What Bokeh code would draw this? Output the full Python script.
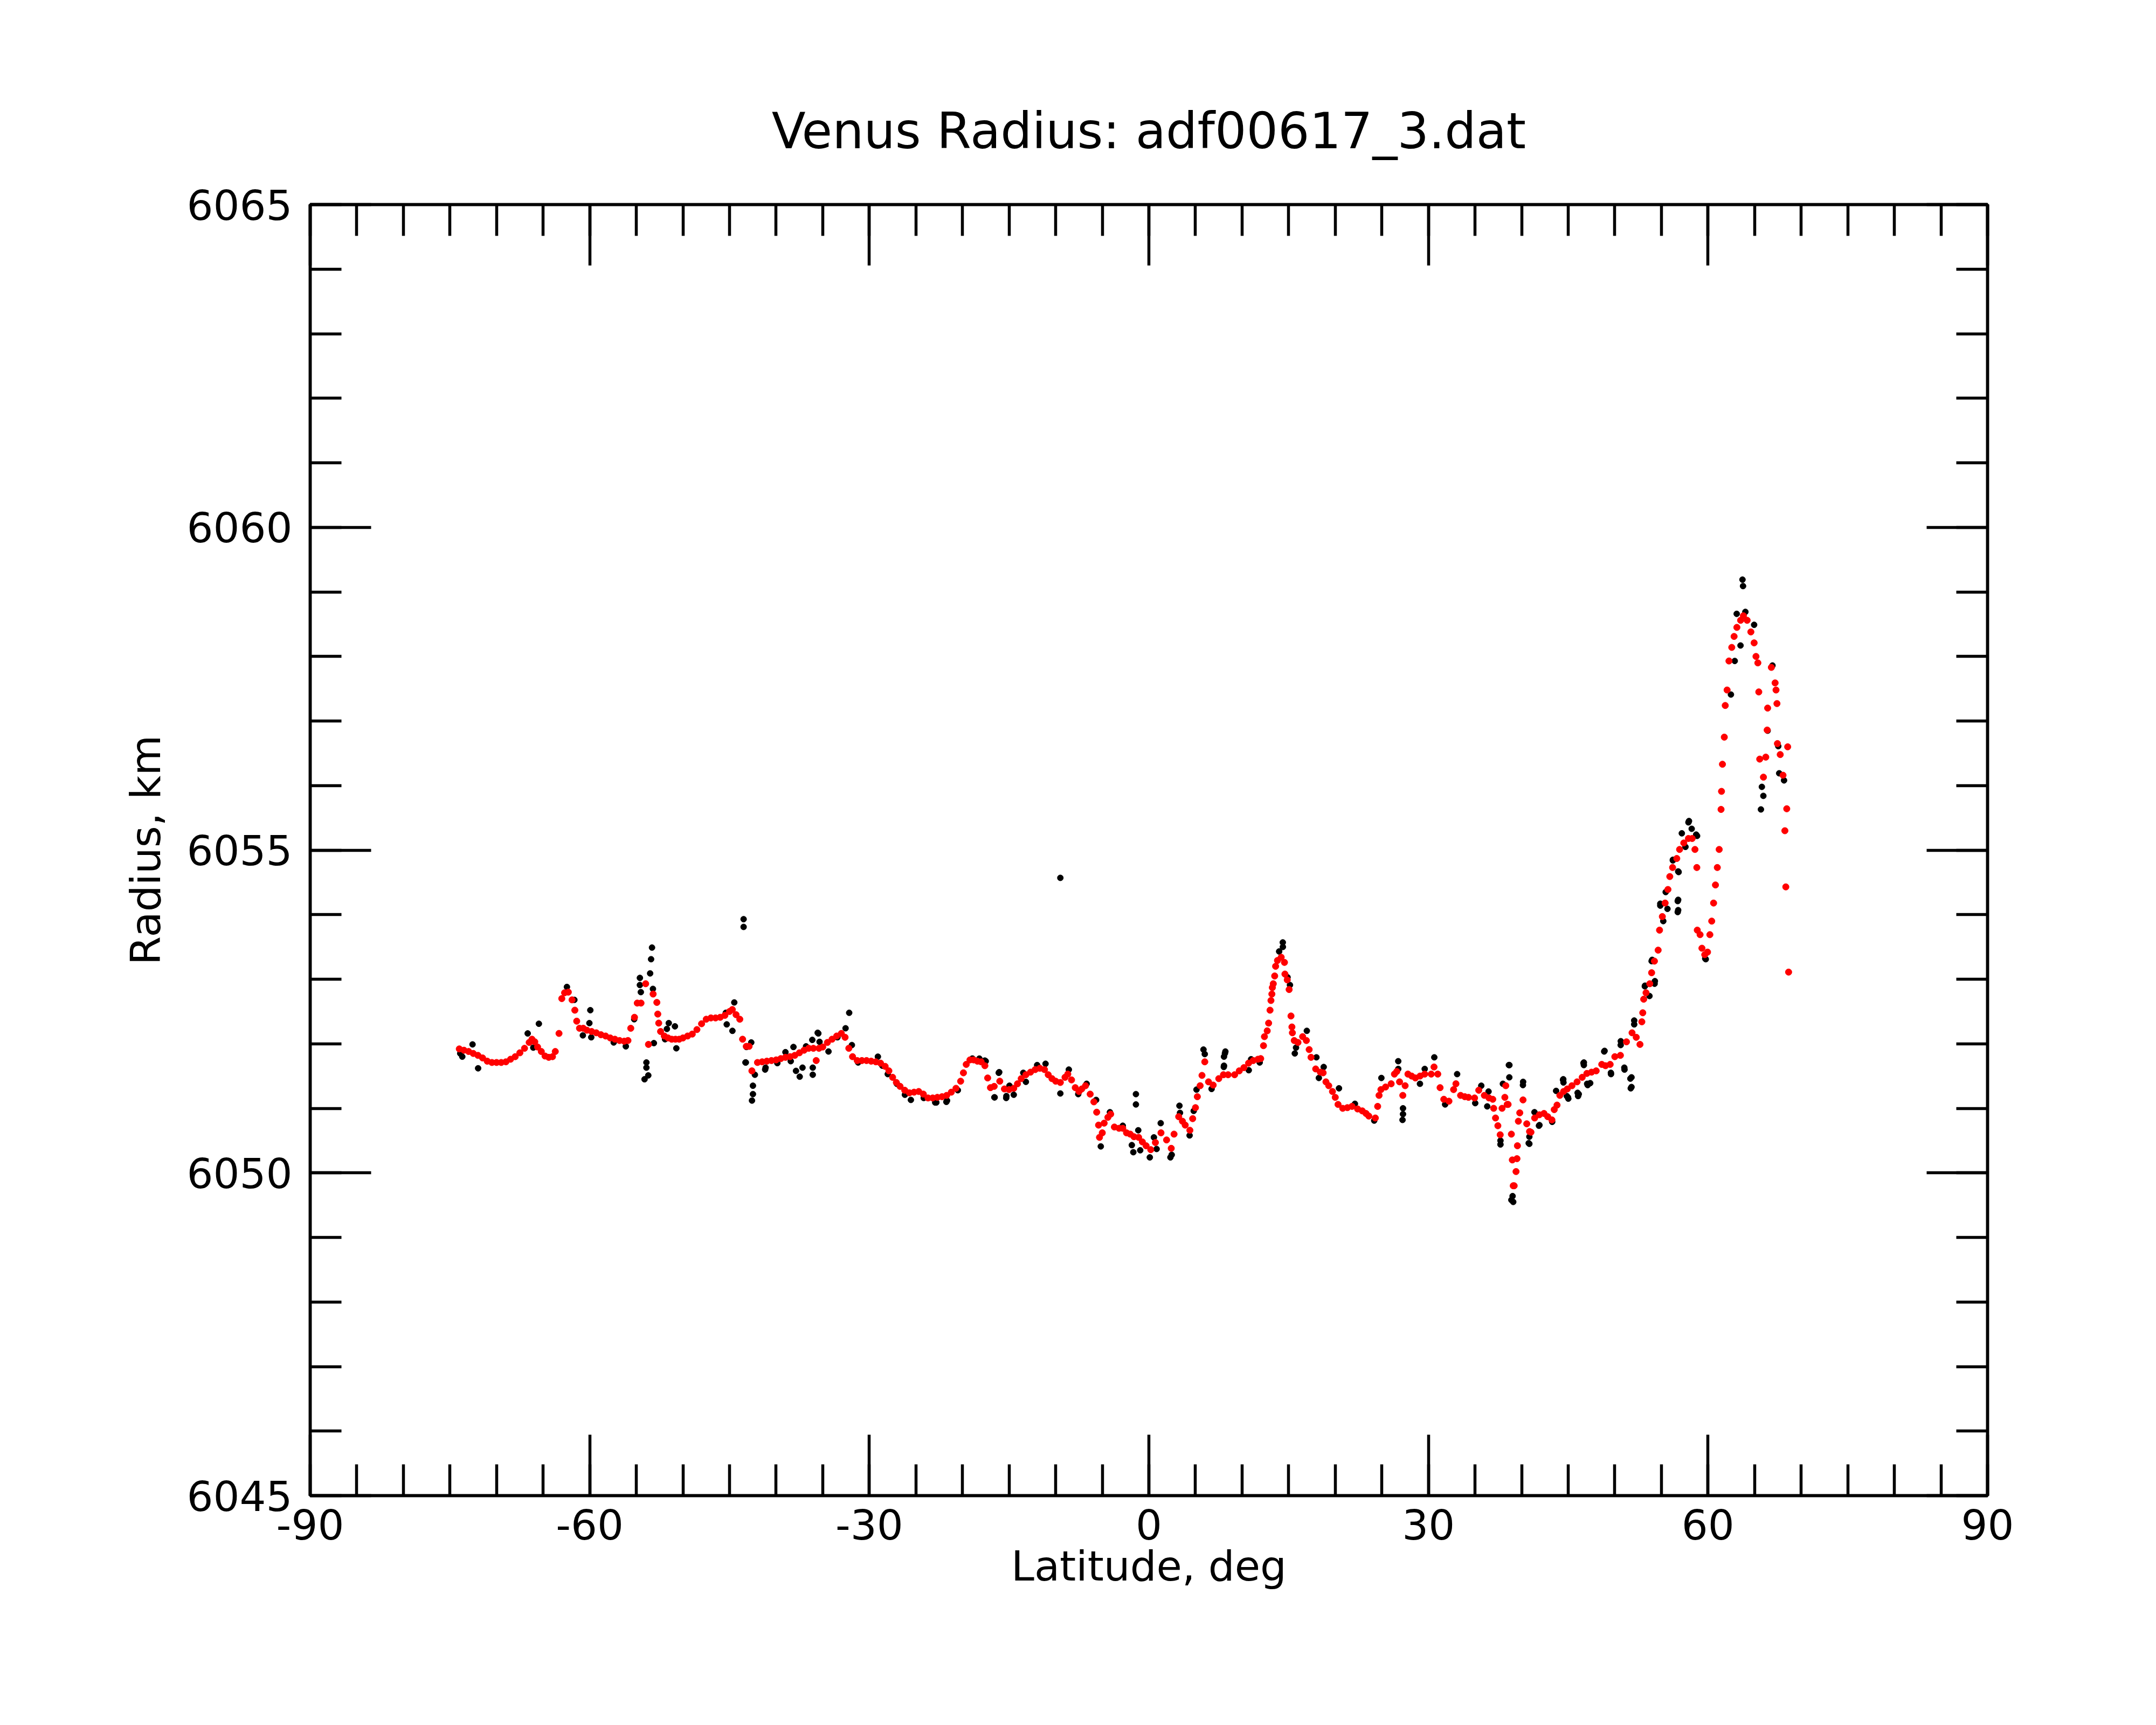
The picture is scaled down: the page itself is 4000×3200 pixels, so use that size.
from bokeh.plotting import figure
from bokeh.models import FixedTicker, LinearAxis, Range1d, CustomJSTickFormatter
from bokeh.embed import file_html
from bokeh.resources import INLINE

title_text = "Venus Radius: adf00617_3.dat"
x_label = "Latitude, deg"
y_label = "Radius, km"
x_ticks = [-90, -60, -30, 0, 30, 60, 90]
x_tick_labels = ["-90", "-60", "-30", "0", "30", "60", "90"]
x_minor = list(range(-90, 91, 5))
y_ticks = [6045, 6050, 6055, 6060, 6065]
y_tick_labels = ["6045", "6050", "6055", "6060", "6065"]
y_minor = list(range(6045, 6066, 1))

# smoothed radius (red)
red_lat = [
 -74.0,-73.5,-73.0,-72.5,-72.0,-71.5,-71.0,-70.5,-70.0,-69.5,-69.0,-68.5,-68.0,-67.5,-67.0,-66.5,-66.2,-65.9,-65.6,-65.2,
 -64.8,-64.4,-64.0,-63.7,-63.3,-63.0,-62.7,-62.3,-61.9,-61.6,-61.4,-61.1,-60.7,-60.3,-59.8,-59.3,-58.8,-58.3,-57.8,-57.3,
 -56.8,-56.3,-55.9,-55.6,-55.2,-54.9,-54.5,-54.0,-53.7,-53.2,-52.8,-52.7,-52.6,-52.4,-52.0,-51.6,-51.2,-50.8,-50.4,-50.0,
 -49.5,-49.0,-48.5,-48.0,-47.5,-47.0,-46.5,-46.0,-45.5,-45.0,-44.7,-44.3,-43.9,-43.6,-43.2,-42.9,-42.6,-42.0,-41.5,-41.0,
 -40.5,-40.0,-39.5,-39.0,-38.5,-38.0,-37.5,-37.0,-36.5,-36.0,-35.7,-35.4,-35.0,-34.5,-34.0,-33.5,-33.0,-32.6,-32.2,-31.8,
 -31.3,-30.8,-30.3,-29.8,-29.3,-28.8,-28.3,-27.9,-27.5,-27.1,-26.7,-26.2,-25.7,-25.2,-24.7,-24.2,-23.7,-23.2,-22.7,-22.2,
 -21.7,-21.2,-20.7,-20.2,-19.9,-19.6,-19.2,-18.8,-18.4,-18.0,-17.6,-17.3,-17.0,-16.6,-16.0,-15.5,-15.0,-14.5,-14.1,-13.7,
 -13.2,-12.7,-12.2,-11.7,-11.2,-10.8,-10.4,-10.0,-9.5,-9.0,-8.7,-8.3,-7.9,-7.5,-7.2,-6.8,-6.3,-5.9,-5.6,-5.4,
 -5.3,-5.0,-4.8,-4.4,-4.1,-3.7,-3.2,-2.8,-2.4,-2.0,-1.6,-1.1,-0.7,-0.3,0.2,0.7,1.3,1.9,2.4,2.7,
 3.2,3.6,3.9,4.4,4.7,5.0,5.2,5.5,5.7,6.0,6.4,6.9,7.5,8.0,8.5,9.2,9.7,10.2,10.7,11.2,
 11.7,12.0,12.3,12.4,12.7,12.85,13.0,13.1,13.2,13.25,13.35,13.5,13.6,13.8,14.2,14.55,14.6,14.85,15.05,15.25,
 15.35,15.4,15.6,16.0,16.5,16.9,17.2,17.4,17.9,18.4,18.7,19.0,19.3,19.7,20.0,20.3,20.8,21.3,21.8,22.4,
 22.9,23.3,23.6,24.3,24.55,24.7,24.9,25.4,26.0,26.35,26.6,26.9,27.25,27.5,27.8,28.2,28.6,29.1,29.6,30.3,
 30.6,31.0,31.25,31.65,32.2,32.7,32.95,33.45,33.9,34.3,34.95,35.4,36.0,36.5,36.9,37.0,37.2,37.45,37.7,37.9,
 38.2,38.3,38.45,38.55,38.9,39.0,39.1,39.2,39.4,39.5,39.55,39.65,39.8,40.15,40.55,40.85,41.0,41.4,41.9,42.4,
 42.8,43.25,43.5,43.8,44.1,44.5,44.9,45.4,45.95,46.5,47.0,47.5,48.0,48.6,49.0,49.5,50.0,50.6,51.25,51.85,
 52.3,52.7,52.9,53.0,53.1,53.35,53.75,53.95,54.25,54.65,54.8,55.1,55.4,55.7,55.9,56.2,56.65,56.95,57.4,57.9,
 58.3,58.6,58.8,58.85,59.15,59.35,59.65,59.95,60.2,60.4,60.6,60.8,61.0,61.2,61.4,61.45,61.55,61.75,61.85,62.05,
 62.25,62.55,62.8,63.1,63.5,63.8,64.2,64.6,64.95,65.15,65.35,65.45,65.55,65.95,66.2,66.35,66.4,66.8,67.2,67.3,
 67.4,67.45,67.75,68.05,68.55,68.45,68.25,68.35,68.65]
red_rad = [
 6051.92,6051.90,6051.88,6051.85,6051.82,6051.78,6051.73,6051.71,6051.71,6051.71,6051.72,6051.76,6051.80,6051.86,6051.93,6052.02,6052.07,6052.03,6051.95,6051.88,
 6051.81,6051.79,6051.80,6051.88,6052.16,6052.70,6052.79,6052.80,6052.68,6052.52,6052.35,6052.24,6052.24,6052.21,6052.19,6052.17,6052.14,6052.12,6052.09,6052.07,
 6052.05,6052.04,6052.05,6052.24,6052.41,6052.63,6052.63,6052.93,6051.99,6052.77,6052.64,6052.46,6052.32,6052.19,6052.12,6052.09,6052.07,6052.07,6052.07,6052.09,
 6052.12,6052.15,6052.22,6052.31,6052.38,6052.40,6052.40,6052.41,6052.44,6052.50,6052.53,6052.45,6052.38,6052.07,6051.96,6051.96,6051.58,6051.71,6051.72,6051.73,
 6051.74,6051.75,6051.77,6051.79,6051.80,6051.82,6051.86,6051.90,6051.93,6051.93,6051.74,6051.93,6051.95,6052.02,6052.07,6052.12,6052.16,6052.10,6051.93,6051.80,
 6051.74,6051.74,6051.74,6051.73,6051.72,6051.70,6051.65,6051.58,6051.48,6051.40,6051.34,6051.28,6051.24,6051.25,6051.26,6051.22,6051.16,6051.16,6051.17,6051.18,
 6051.20,6051.25,6051.31,6051.42,6051.55,6051.68,6051.75,6051.75,6051.73,6051.72,6051.66,6051.47,6051.32,6051.34,6051.42,6051.30,6051.29,6051.31,6051.38,6051.46,
 6051.52,6051.56,6051.60,6051.62,6051.60,6051.52,6051.46,6051.42,6051.40,6051.48,6051.53,6051.44,6051.32,6051.26,6051.30,6051.35,6051.22,6051.10,6050.94,6050.74,
 6050.55,6050.62,6050.77,6050.86,6050.91,6050.71,6050.69,6050.69,6050.62,6050.60,6050.56,6050.55,6050.48,6050.42,6050.36,6050.47,6050.62,6050.51,6050.38,6050.60,
 6050.87,6050.80,6050.74,6050.66,6050.84,6051.01,6051.18,6051.35,6051.51,6051.72,6051.41,6051.36,6051.46,6051.52,6051.52,6051.52,6051.58,6051.63,6051.70,6051.74,
 6051.76,6051.77,6051.97,6052.11,6052.20,6052.32,6052.52,6052.67,6052.77,6052.87,6052.93,6053.05,6053.20,6053.29,6053.34,6053.26,6053.08,6052.99,6052.84,6052.43,
 6052.26,6052.17,6052.05,6052.02,6052.11,6052.05,6051.91,6051.79,6051.61,6051.56,6051.55,6051.41,6051.35,6051.26,6051.17,6051.06,6051.00,6051.01,6051.03,6050.99,
 6050.96,6050.92,6050.88,6050.85,6051.03,6051.20,6051.29,6051.33,6051.38,6051.53,6051.57,6051.41,6051.20,6051.35,6051.53,6051.50,6051.47,6051.50,6051.53,6051.53,
 6051.64,6051.53,6051.32,6051.14,6051.11,6051.29,6051.38,6051.20,6051.18,6051.17,6051.16,6051.28,6051.20,6051.16,6051.14,6051.00,6050.85,6050.73,6050.59,6051.00,
 6051.17,6051.35,6051.06,6051.06,6050.60,6050.20,6049.80,6049.80,6050.02,6050.22,6050.42,6050.80,6050.93,6051.13,6050.76,6050.64,6050.63,6050.85,6050.90,6050.92,
 6050.87,6050.82,6050.98,6051.05,6051.20,6051.26,6051.30,6051.35,6051.41,6051.48,6051.54,6051.56,6051.58,6051.68,6051.66,6051.68,6051.80,6051.82,6052.03,6052.17,
 6052.10,6051.99,6052.34,6052.48,6052.69,6052.79,6052.93,6053.10,6053.28,6053.45,6053.76,6053.97,6054.18,6054.39,6054.59,6054.73,6054.87,6055.01,6055.11,6055.18,
 6055.18,6055.01,6054.73,6053.76,6053.69,6053.48,6053.38,6053.42,6053.69,6053.90,6054.18,6054.46,6054.73,6055.01,6055.63,6055.91,6056.33,6056.75,6057.24,6057.48,
 6057.93,6058.14,6058.31,6058.45,6058.56,6058.63,6058.56,6058.38,6058.21,6058.00,6057.90,6057.45,6056.41,6056.13,6056.44,6056.86,6057.20,6057.83,6057.59,6057.48,
 6057.27,6056.65,6056.48,6056.16,6056.60,6055.64,6055.30,6054.43,6053.11]

# raw radius (black)
raw_lat = [
 -73.9,-73.68,-72.58,-71.98,-66.66,-65.46,-66.06,-62.45,-61.65,-60.74,-59.94,-60.04,-59.84,-57.43,-56.13,-55.23,-54.62,-54.62,-54.52,-53.92,
 -53.92,-53.72,-54.12,-53.52,-53.42,-53.32,-53.22,-53.12,-51.92,-51.52,-51.72,-50.86,-50.71,-44.49,-45.40,-45.30,-44.69,-43.49,-43.49,-43.19,
 -43.29,-42.49,-42.49,-42.59,-41.18,-37.87,-37.47,-37.17,-36.07,-36.07,-35.47,-32.16,-25.54,-22.93,-21.73,-18.92,-17.61,-16.58,-16.11,-15.31,
 -14.96,-14.50,-13.48,-13.20,-11.99,-11.09,-9.50,-8.59,-7.58,-6.68,-5.66,-5.16,-4.18,-2.80,-1.83,-1.67,-1.39,-1.39,-1.14,-0.93,
 0.10,0.54,0.83,1.27,2.31,2.45,3.28,3.34,4.37,4.81,5.11,5.86,6.00,6.73,8.06,8.21,8.06,10.72,11.89,8.16,
 8.04,10.97,13.98,14.37,14.38,14.88,15.14,15.66,15.79,16.95,17.98,18.24,18.76,20.40,22.11,24.18,24.95,26.76,26.76,27.27,
 27.27,27.22,29.09,29.60,30.63,31.79,33.08,35.02,35.67,36.45,36.31,37.73,37.73,38.63,38.68,37.99,39.03,39.10,40.16,40.83,
 40.83,41.86,43.28,44.44,44.97,46.13,46.64,47.03,38.90,40.14,40.76,41.38,41.91,44.49,45.01,46.06,46.68,47.09,48.86,49.59,
 50.63,51.04,51.67,51.71,52.08,53.22,53.95,54.27,54.88,55.20,56.23,56.75,56.75,56.85,57.90,58.83,59.76,62.46,62.87,63.08,
 63.49,63.70,63.76,64.01,64.95,65.78,65.94,65.68,66.40,66.92,67.64,68.16,67.54,38.69,-9.5,
 -42.67,-43.25,-42.28,-41.13,-39.87,-39.0,-38.43,-38.14,-36.79,-36.12,-35.54,-35.34,-34.38,-33.42,-32.55,-31.87,-31.2,-29.08,-28.6,-28.02,
 -27.05,-26.18,-24.16,-22.81,-21.66,-20.5,-18.96,-18.19,-17.51,-16.06,-16.55,-15.29,
 43.7,44.47,44.85,46.01,46.68,47.36,48.9,49.58,50.64,51.02,51.79,51.79,52.08,53.24,53.72,54.01,54.3,54.88,55.65,55.46,
 56.23,56.8,56.8,56.8,57.19,57.96,58.25,58.73,59.7,57.58]
raw_rad = [
 6051.85,6051.80,6051.99,6051.62,6052.16,6052.31,6051.94,6052.88,6052.68,6052.13,6052.52,6052.32,6052.10,6052.02,6051.96,6052.38,6053.02,6052.91,6052.80,6051.71,
 6051.63,6051.51,6051.45,6053.09,6053.31,6053.49,6052.85,6052.01,6052.07,6052.32,6052.23,6052.27,6051.93,6052.64,6052.48,6052.30,6052.20,6053.93,6053.81,6051.95,
 6051.71,6051.35,6051.22,6051.12,6051.60,6051.58,6051.49,6051.63,6051.63,6051.52,6052.16,6052.48,6051.13,6051.09,6051.10,6051.77,6051.74,6051.17,6051.55,6051.16,
 6051.35,6051.21,6051.55,6051.41,6051.67,6051.69,6051.23,6051.60,6051.22,6051.38,6051.13,6050.41,6050.94,6050.73,6050.43,6050.32,6051.22,6051.06,6050.66,6050.35,
 6050.24,6050.55,6050.37,6050.77,6050.24,6050.28,6051.04,6050.93,6050.58,6050.96,6051.29,6051.91,6051.84,6051.30,6051.80,6051.88,6051.66,6051.59,6051.71,6051.85,
 6051.64,6051.76,6053.43,6053.57,6053.50,6053.03,6052.91,6051.85,6051.94,6052.20,6051.79,6051.47,6051.64,6051.31,6051.07,6050.81,6051.47,6051.73,6051.61,6051.00,
 6050.91,6050.82,6051.38,6051.61,6051.79,6051.06,6051.53,6051.08,6051.35,6051.26,6051.03,6050.50,6050.44,6051.67,6051.48,6051.38,6049.64,6049.55,6051.41,6050.56,
 6050.45,6050.73,6050.79,6051.44,6051.17,6051.22,6051.70,6051.38,6049.58,6051.36,6050.46,6050.94,6050.74,6051.40,6051.15,6051.19,6051.67,6051.36,6051.88,6051.53,
 6051.98,6051.60,6051.46,6051.31,6052.30,6052.89,6053.28,6052.93,6054.14,6053.90,6054.84,6054.21,6054.04,6054.66,6055.43,6055.22,6053.31,6057.41,6057.93,6058.66,
 6058.17,6059.19,6059.09,6058.69,6058.49,6055.98,6055.84,6055.63,6056.85,6057.86,6056.19,6056.08,6056.61,6051.67,6054.57,
 6052.02,6051.71,6051.52,6051.63,6051.70,6051.87,6051.73,6051.95,6051.96,6052.06,6052.17,6052.03,6051.88,6052.10,6052.24,6051.98,6051.71,6051.80,6051.66,6051.53,
 6051.38,6051.21,6051.16,6051.09,6051.12,6051.28,6051.77,6051.77,6051.73,6051.56,6051.17,6051.19,
 6051.27,6051.45,6051.19,6051.24,6051.71,6051.39,6051.89,6051.55,6052.04,6051.63,6051.48,6051.33,6052.36,6052.90,6052.74,6053.30,6052.97,6054.17,6054.09,6054.35,
 6054.85,6054.67,6054.23,6054.07,6055.26,6055.45,6055.33,6055.24,6053.32,6055.05]

p = figure(width=3984, height=3184, x_range=Range1d(-90, 90), y_range=Range1d(6045, 6065),
           output_backend="svg", toolbar_location=None,
           min_border_left=575, min_border_right=297, min_border_top=379, min_border_bottom=410)
p.background_fill_color = "white"
p.border_fill_color = "white"
p.xgrid.visible = False
p.ygrid.visible = False
p.outline_line_color = "black"
p.outline_line_width = 5.5

p.title.text = title_text
p.title.align = "center"
p.title.text_font = "DejaVu Sans"
p.title.text_font_size = "92px"
p.title.text_font_style = "normal"
p.title.text_color = "black"
p.title.standoff = 165

right_axis = LinearAxis()
top_axis = LinearAxis()
p.add_layout(right_axis, "right")
p.add_layout(top_axis, "above")

for ax in p.xaxis:
    ax.ticker = FixedTicker(ticks=x_ticks, minor_ticks=x_minor)
for ax in p.yaxis:
    ax.ticker = FixedTicker(ticks=y_ticks, minor_ticks=y_minor)

for ax in list(p.xaxis) + list(p.yaxis):
    ax.axis_line_width = 5.5
    ax.major_tick_line_width = 5.5
    ax.minor_tick_line_width = 5.5
    ax.major_tick_in = 113
    ax.major_tick_out = 0
    ax.minor_tick_in = 58
    ax.minor_tick_out = 0
    ax.major_label_text_font = "DejaVu Sans"
    ax.major_label_text_font_size = "77px"
    ax.major_label_text_color = "black"
    ax.axis_label_text_font = "DejaVu Sans"
    ax.axis_label_text_font_size = "77px"
    ax.axis_label_text_font_style = "normal"
    ax.axis_label_text_color = "black"

blank = CustomJSTickFormatter(code="return ''")
right_axis.formatter = blank
top_axis.formatter = blank
right_axis.major_label_standoff = 0
top_axis.major_label_standoff = 0

bottom_axis = p.below[0]
left_axis = p.left[0]
bottom_axis.major_label_overrides = {t: s for t, s in zip(x_ticks, x_tick_labels)}
left_axis.major_label_overrides = {t: s for t, s in zip(y_ticks, y_tick_labels)}

bottom_axis.axis_label = x_label
bottom_axis.major_label_standoff = 25
bottom_axis.axis_label_standoff = 2
left_axis.axis_label = y_label
left_axis.major_label_standoff = 33
left_axis.axis_label_standoff = 29

p.scatter(raw_lat, raw_rad, size=11, color="black", marker="circle")
p.scatter(red_lat, red_rad, size=12, color="red", marker="circle")

open("out.html", "w").write(file_html(p, INLINE))
